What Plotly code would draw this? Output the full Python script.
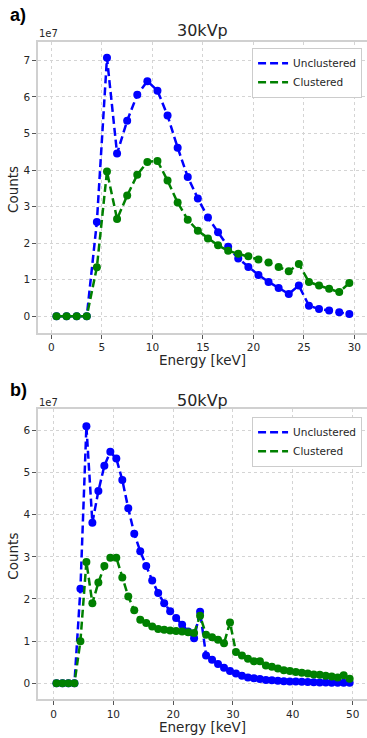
import plotly.graph_objects as go

# ---------------- data (counts shown in units of 1e7) ----------------
energy_30 = [0.5, 1.5, 2.5, 3.5, 4.5, 5.5, 6.5, 7.5, 8.5, 9.5,
             10.5, 11.5, 12.5, 13.5, 14.5, 15.5, 16.5, 17.5, 18.5, 19.5,
             20.5, 21.5, 22.5, 23.5, 24.5, 25.5, 26.5, 27.5, 28.5, 29.5]
unclustered_30 = [0, 0, 0, 0, 2.58, 7.07, 4.45, 5.35, 6.06, 6.43,
                  6.17, 5.49, 4.61, 3.81, 3.22, 2.70, 2.30, 1.90, 1.58, 1.35,
                  1.13, 0.94, 0.77, 0.61, 0.84, 0.29, 0.20, 0.16, 0.11, 0.06]
clustered_30 = [0, 0, 0, 0, 1.34, 3.96, 2.66, 3.30, 3.87, 4.22,
                4.25, 3.71, 3.11, 2.64, 2.34, 2.13, 1.94, 1.79, 1.71, 1.64,
                1.55, 1.47, 1.35, 1.23, 1.43, 0.94, 0.84, 0.75, 0.66, 0.91]

energy_50 = [0.5, 1.5, 2.5, 3.5, 4.5, 5.5, 6.5, 7.5, 8.5, 9.5,
             10.5, 11.5, 12.5, 13.5, 14.5, 15.5, 16.5, 17.5, 18.5, 19.5,
             20.5, 21.5, 22.5, 23.5, 24.5, 25.5, 26.5, 27.5, 28.5, 29.5,
             30.5, 31.5, 32.5, 33.5, 34.5, 35.5, 36.5, 37.5, 38.5, 39.5,
             40.5, 41.5, 42.5, 43.5, 44.5, 45.5, 46.5, 47.5, 48.5, 49.5]
unclustered_50 = [0, 0, 0, 0, 2.24, 6.10, 3.81, 4.56, 5.16, 5.49,
                  5.33, 4.82, 4.15, 3.55, 3.13, 2.78, 2.44, 2.14, 1.90, 1.71,
                  1.55, 1.39, 1.23, 1.07, 1.70, 0.66, 0.56, 0.46, 0.37, 0.29,
                  0.23, 0.18, 0.14, 0.12, 0.10, 0.08, 0.07, 0.06, 0.05, 0.045,
                  0.04, 0.035, 0.03, 0.025, 0.02, 0.02, 0.015, 0.015, 0.01, 0.01]
clustered_50 = [0, 0, 0, 0, 1.00, 2.88, 1.90, 2.39, 2.78, 2.98,
                2.98, 2.51, 2.06, 1.73, 1.51, 1.43, 1.35, 1.29, 1.27, 1.25,
                1.24, 1.23, 1.21, 1.19, 1.60, 1.15, 1.09, 1.03, 0.95, 1.44,
                0.74, 0.66, 0.58, 0.52, 0.52, 0.42, 0.39, 0.35, 0.31, 0.29,
                0.27, 0.25, 0.23, 0.21, 0.20, 0.18, 0.16, 0.14, 0.19, 0.11]

series_names = ["Unclustered", "Clustered"]
panel_titles = ["30kVp", "50kVp"]
panel_tags = ["a)", "b)"]
x_ticks_30 = [0, 5, 10, 15, 20, 25, 30]
x_ticks_50 = [0, 10, 20, 30, 40, 50]
y_ticks_30 = [0, 1, 2, 3, 4, 5, 6, 7]
y_ticks_50 = [0, 1, 2, 3, 4, 5, 6]

BLUE = "#0000ff"
GREEN = "#008000"
FONT = "DejaVu Sans"

fig = go.Figure()

panels = [
    (energy_30, unclustered_30, clustered_30, "x", "y", "legend"),
    (energy_50, unclustered_50, clustered_50, "x2", "y2", "legend2"),
]
for xs, unc, clu, xa, ya, lg in panels:
    for vals, name, col in ((unc, series_names[0], BLUE), (clu, series_names[1], GREEN)):
        fig.add_trace(go.Scatter(
            x=xs, y=vals, mode="lines", name=name, xaxis=xa, yaxis=ya, legend=lg,
            line=dict(color=col, width=2.5, dash="8px,4px"), showlegend=True))
        fig.add_trace(go.Scatter(
            x=xs, y=vals, mode="markers", xaxis=xa, yaxis=ya, legend=lg,
            marker=dict(color=col, size=8), showlegend=False, hoverinfo="skip"))

axis_common = dict(
    showgrid=True, gridcolor="#d4d4d4", griddash="dot", gridwidth=1,
    showline=True, linecolor="#d0d0d0", linewidth=1.6,
    ticks="outside", ticklen=4, tickcolor="#555555", tickwidth=1,
    tickfont=dict(family=FONT, size=10.5, color="#262626"),
    zeroline=False,
)

H = 738.0
def py(pix):
    return (H - pix) / H

legend_common = dict(x=0.985, xanchor="right", yanchor="top",
                     bgcolor="white", bordercolor="#cccccc", borderwidth=1,
                     font=dict(family=FONT, size=10.5, color="#262626"),
                     tracegroupgap=0, itemwidth=30)

fig.update_layout(
    width=367, height=738,
    margin=dict(l=38, r=0, t=0, b=0),
    paper_bgcolor="white", plot_bgcolor="white",
    font=dict(family=FONT, color="#262626"),
    xaxis=dict(axis_common, range=[-1.33, 31.25], tickvals=x_ticks_30, mirror=True,
               anchor="y", domain=[0, 1]),
    yaxis=dict(axis_common, range=[-0.45, 7.51], tickvals=y_ticks_30, mirror=False,
               anchor="x", domain=[py(332.7), py(41.7)]),
    xaxis2=dict(axis_common, range=[-2.59, 52.4], tickvals=x_ticks_50, mirror=True,
                anchor="y2", domain=[0, 1]),
    yaxis2=dict(axis_common, range=[-0.38, 6.50], tickvals=y_ticks_50, mirror=False,
                anchor="x2", domain=[py(699.3), py(409.3)]),
    legend=dict(legend_common, y=py(47.7)),
    legend2=dict(legend_common, y=py(416.7)),
    showlegend=True,
)

W_PLOT = 329.0
def px(pix):
    return (pix - 38) / W_PLOT

ann = []
for tag, title, tag_y, title_y, e7_y, xl_y, yl_y in (
    (panel_tags[0], panel_titles[0], 15, 30, 33.5, 360, 190),
    (panel_tags[1], panel_titles[1], 390, 400, 402.5, 726.7, 556.7),
):
    ann.append(dict(text="<b>" + tag + "</b>", x=px(8), y=py(tag_y), xref="paper", yref="paper",
                    xanchor="left", yanchor="middle", showarrow=False,
                    font=dict(family="Liberation Sans", size=18, color="black")))
    ann.append(dict(text=title, x=0.5, y=py(title_y), xref="paper", yref="paper",
                    xanchor="center", yanchor="middle", showarrow=False,
                    font=dict(family=FONT, size=16, color="#262626")))
    ann.append(dict(text="1e7", x=px(37), y=py(e7_y), xref="paper", yref="paper",
                    xanchor="left", yanchor="middle", showarrow=False,
                    font=dict(family=FONT, size=10, color="#262626")))
    ann.append(dict(text="Energy [keV]", x=0.5, y=py(xl_y), xref="paper", yref="paper",
                    xanchor="center", yanchor="middle", showarrow=False,
                    font=dict(family=FONT, size=13.5, color="#262626")))
    ann.append(dict(text="Counts", x=px(13), y=py(yl_y), xref="paper", yref="paper",
                    xanchor="center", yanchor="middle", showarrow=False, textangle=-90,
                    font=dict(family=FONT, size=13.5, color="#262626")))
fig.update_layout(annotations=ann)

fig.write_html("out.html")
